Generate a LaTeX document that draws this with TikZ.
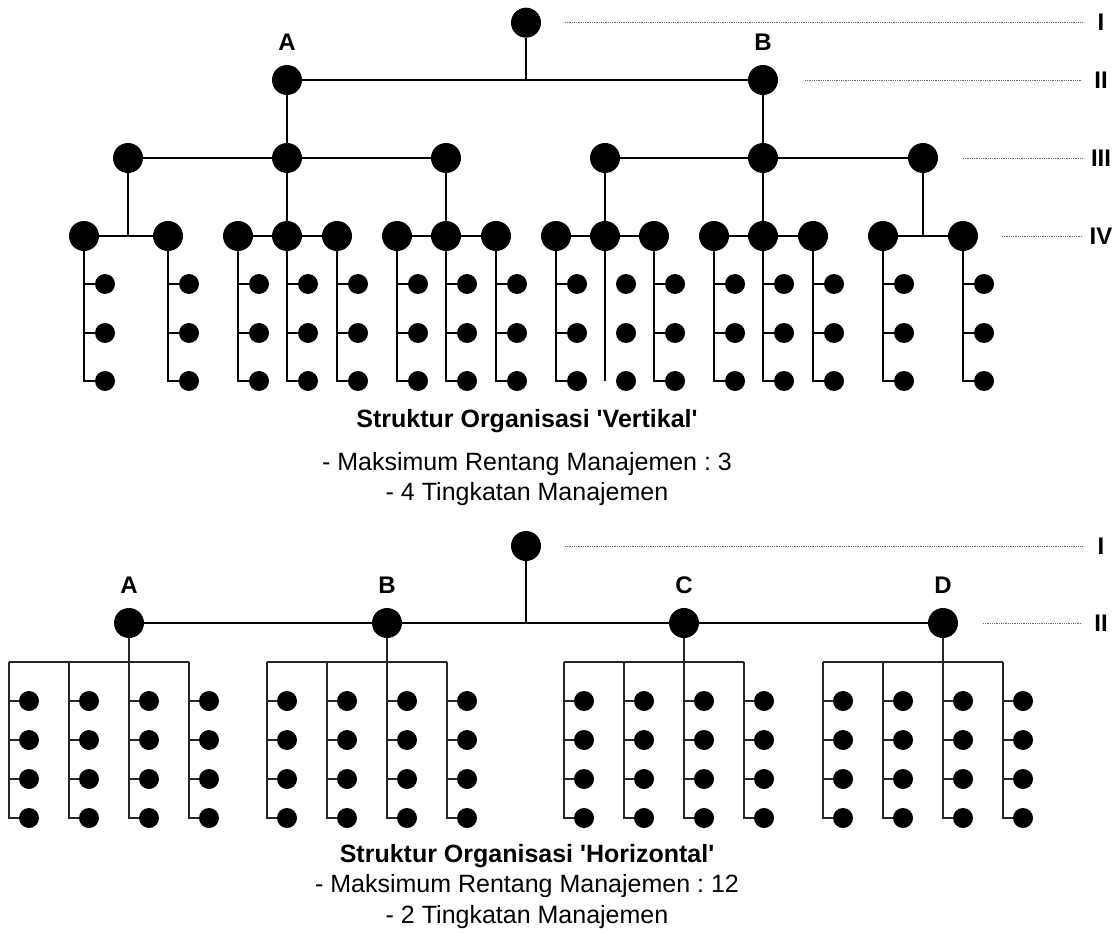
\documentclass[tikz,border=0pt]{standalone}
\usepackage{fontspec}
\setmainfont{Liberation Sans}
% a family without the TeX input mapping, so ' stays a straight quote
\newfontfamily\arial{Liberation Sans}
\begin{document}
\frenchspacing
\begin{tikzpicture}[x=1pt,y=-1pt,
  big/.style={circle,fill=black,minimum size=30pt,inner sep=0pt},
  small/.style={circle,fill=black,minimum size=20pt,inner sep=0pt},
  conn/.style={line width=1.8pt,black},
  thin/.style={line width=1.2pt,black!85},
  lvl/.style={line width=0.9pt,black!60,dash pattern=on 1pt off 0.8pt},
  lab/.style={font=\arial\fontsize{24}{28}\selectfont\bfseries,inner sep=0pt},
  ttl/.style={font=\arial\fontsize{25}{30}\selectfont\bfseries,inner sep=0pt,anchor=base},
  txt/.style={font=\arial\fontsize{25}{30}\selectfont,inner sep=0pt,anchor=base}]
\path[use as bounding box] (0,0) rectangle (1116,933);

% ---------------- vertical structure ----------------
\node[big] (r1) at (526,22.7) {};
\node[big] (A1) at (287,80) {};
\node[big] (B1) at (763,80) {};
\node[lab] (lA1) at (287,42) {A};
\node[lab] (lB1) at (763,42) {B};
\draw[conn] (A1) -- (B1);
\draw[conn] (r1) -- (r1 |- A1);

% third level
\foreach \x [count=\i] in {128,287,446,605,763,923}
  \node[big] (t\i) at (\x,158) {};
\draw[conn] (t1) -- (t3);
\draw[conn] (t4) -- (t6);
\draw[conn] (A1) -- (t2);
\draw[conn] (B1) -- (t5);

% fourth level with the staff below each node
\foreach \x [count=\i] in {84,168,238,287,337,397,446,496,556,605,654,714,763,813,883,963} {
  \node[big] (q\i) at (\x,236) {};
  \foreach \y/\r in {284/a,333/b,381/c}
    \node[small] (s\i\r) at (\x+21,\y) {};
}
\foreach \i in {1,...,16} {
  \ifnum\i=10
    \coordinate (q\i e) at (q\i |- s\i c);
    \draw[conn] (q\i) -- (q\i e);
  \else
    \draw[conn] (q\i) |- (s\i c);
    \draw[conn] (s\i a -| q\i) -- (s\i a);
    \draw[conn] (s\i b -| q\i) -- (s\i b);
  \fi
}
\draw[conn] (q1) -- (q2);
\draw[conn] (t1) -- (t1 |- q1);
\draw[conn] (q3) -- (q5);
\draw[conn] (t2) -- (q4);
\draw[conn] (q6) -- (q8);
\draw[conn] (t3) -- (q7);
\draw[conn] (q9) -- (q11);
\draw[conn] (t4) -- (q10);
\draw[conn] (q12) -- (q14);
\draw[conn] (t5) -- (q13);
\draw[conn] (q15) -- (q16);
\draw[conn] (t6) -- (t6 |- q15);

% level markers
\foreach \y/\xs/\t [count=\i] in {22.7/565/I,80/805/II,158/963/III,236/1002/IV} {
  \coordinate (ls\i) at (\xs,\y);
  \coordinate (le\i) at (1082,\y);
  \node[lab] (lv\i) at (1101,\y) {\t};
  \draw[lvl] (ls\i) -- (le\i);
}

\node[ttl] (title1) at (527,427) {Struktur Organisasi 'Vertikal'};
\node[txt] (info1a) at (527,470) {- Maksimum Rentang Manajemen : 3};
\node[txt] (info1b) at (527,500) {- 4 Tingkatan Manajemen};

% ---------------- horizontal structure ----------------
\node[big] (r2) at (526,546) {};
\foreach \X/\L [count=\k] in {129/A,387/B,684/C,943/D} {
  \node[big] (p\k) at (\X,623) {};
  \node[lab] (lp\k) at (\X,585) {\L};
  \foreach \col in {1,...,4} {
    \coordinate (b\k\col) at (\X-180+60*\col,662);
    \foreach \y/\r in {701/a,740/b,779/c,818/d}
      \node[small] (m\k\col\r) at (\X-160+60*\col,\y) {};
  }
}
\draw[conn] (p1) -- (p4);
\draw[conn] (r2) -- (r2 |- p1);
\foreach \k in {1,...,4} {
  \draw[thin] (b\k1) -- (b\k4);
  \draw[thin] (p\k) -- (b\k3);
  \foreach \col in {1,...,4} {
    \draw[thin] (b\k\col) |- (m\k\col d);
    \foreach \r in {a,b,c}
      \draw[thin] (m\k\col\r -| b\k\col) -- (m\k\col\r);
  }
}

\foreach \y/\xs/\t [count=\i] in {546/565/I,623/983/II} {
  \coordinate (hs\i) at (\xs,\y);
  \coordinate (he\i) at (1082,\y);
  \node[lab] (hv\i) at (1101,\y) {\t};
  \draw[lvl] (hs\i) -- (he\i);
}

\node[ttl] (title2) at (527,862) {Struktur Organisasi 'Horizontal'};
\node[txt] (info2a) at (527,892) {- Maksimum Rentang Manajemen : 12};
\node[txt] (info2b) at (527,923) {- 2 Tingkatan Manajemen};
\end{tikzpicture}
\end{document}
